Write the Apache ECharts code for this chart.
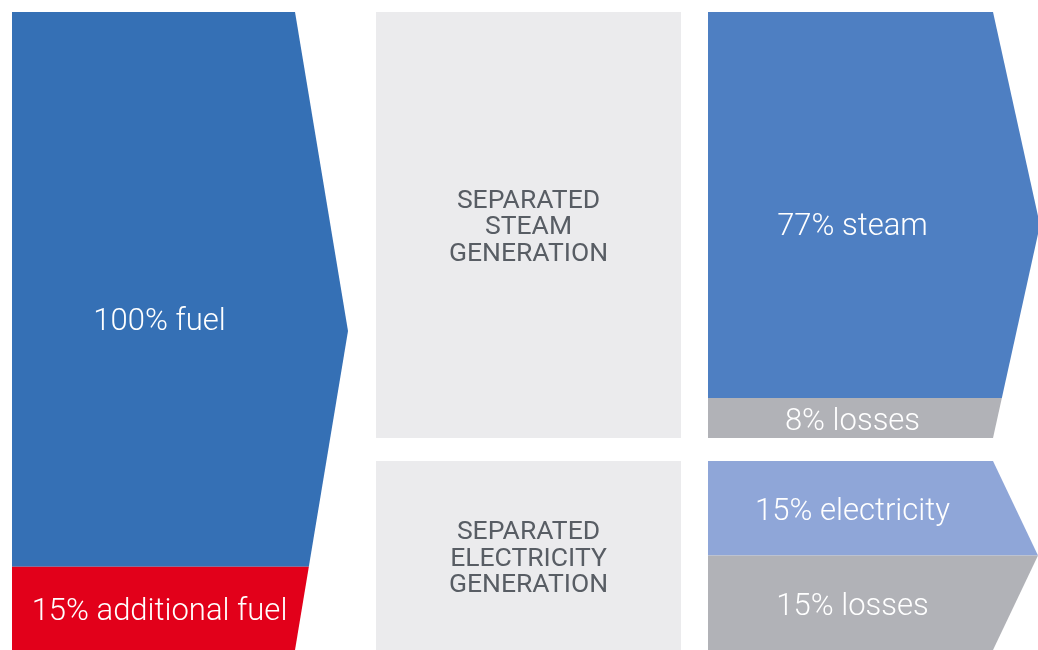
<!DOCTYPE html>
<html>
<head>
<meta charset="utf-8">
<script src="https://cdn.jsdelivr.net/npm/echarts@6/dist/echarts.min.js"></script>
<style>
html,body{margin:0;padding:0;background:#ffffff;}
#chart{width:1038px;height:650px;}
</style>
</head>
<body>
<div id="chart"></div>
<script>
// ---- data ----
const inputNames = ['fuel', 'additional fuel'];
const inputValues = [100, 15];
const steamNames = ['steam', 'losses'];
const steamValues = [77, 8];
const elecNames = ['electricity', 'losses'];
const elecValues = [15, 15];
const processLabels = ['SEPARATED\nSTEAM\nGENERATION', 'SEPARATED\nELECTRICITY\nGENERATION'];

// ---- styles ----
const inputColors = ['#3570b5', '#e2001a'];
const steamColors = ['#4e7fc2', '#b1b2b7'];
const elecColors = ['#8fa6d8', '#b1b2b7'];
const labelFont = '300 31px Roboto, "Noto Sans", sans-serif';
const boxFont = '26.5px Roboto, "Noto Sans", sans-serif';

function stackData(values) {
  let acc = 0;
  return values.map(v => { const s = acc; acc += v; return [0, s, acc]; });
}

function makeRender(names, values, colors, tip, labelDx, tipWeight) {
  return function (params, api) {
    const cs = params.coordSys;
    const i = params.dataIndex;
    const y0 = api.coord([0, api.value(1)])[1];
    const y1 = api.coord([0, api.value(2)])[1];
    const X0 = cs.x, X1 = cs.x + cs.width;
    const top = cs.y, bot = cs.y + cs.height;
    const mid = (top + bot) / 2, half = cs.height / 2;
    const ex = y => X1 + tip * Math.max(0, 1 - Math.abs(y - mid) / half);
    const pts = [[X0, y0], [ex(y0), y0]];
    let ly = (y0 + y1) / 2;
    if (y0 < mid && y1 > mid) {
      pts.push([X1 + tip, mid]);
      ly = (1 - tipWeight) * ly + tipWeight * mid;
    }
    pts.push([ex(y1), y1], [X0, y1]);
    return {
      type: 'group',
      children: [
        { type: 'polygon', shape: { points: pts }, style: { fill: colors[i] } },
        {
          type: 'text',
          style: {
            text: values[i] + '% ' + names[i],
            x: (X0 + X1) / 2 + labelDx, y: ly + 4,
            align: 'center', verticalAlign: 'middle',
            fill: '#ffffff', font: labelFont
          },
          z2: 10
        }
      ]
    };
  };
}

const grids = [
  { left: 12, top: 12, width: 283, height: 640 },
  { left: 708, top: 12, width: 285, height: 426 },
  { left: 708, top: 461, width: 285, height: 192 }
];
const blocks = [
  { names: inputNames, values: inputValues, colors: inputColors, tip: 53, dx: 6, w: 0.7 },
  { names: steamNames, values: steamValues, colors: steamColors, tip: 47, dx: 2, w: 0.9 },
  { names: elecNames, values: elecValues, colors: elecColors, tip: 45, dx: 2, w: 0 }
];

const chart = echarts.init(document.getElementById('chart'), null, { renderer: 'canvas' });

const option = {
  backgroundColor: '#ffffff',
  animation: false,
  grid: grids.map(g => Object.assign({ containLabel: false }, g)),
  xAxis: blocks.map((b, k) => ({ type: 'category', gridIndex: k, data: [''], show: false })),
  yAxis: blocks.map((b, k) => ({
    type: 'value', gridIndex: k, inverse: true, min: 0,
    max: b.values.reduce((a, c) => a + c, 0), show: false
  })),
  series: blocks.map((b, k) => ({
    type: 'custom',
    xAxisIndex: k, yAxisIndex: k,
    clip: false,
    renderItem: makeRender(b.names, b.values, b.colors, b.tip, b.dx, b.w),
    data: stackData(b.values)
  })),
  graphic: [
    { type: 'rect', shape: { x: 376, y: 12, width: 305, height: 426 }, style: { fill: '#ebebed' } },
    { type: 'rect', shape: { x: 376, y: 461, width: 305, height: 195 }, style: { fill: '#ebebed' } },
    {
      type: 'text', x: 528.5, y: 227.5,
      style: { text: processLabels[0], align: 'center', verticalAlign: 'middle', fill: '#585d64',
        font: boxFont, lineHeight: 26.5 }
    },
    {
      type: 'text', x: 528.5, y: 559,
      style: { text: processLabels[1], align: 'center', verticalAlign: 'middle', fill: '#585d64',
        font: boxFont, lineHeight: 26.5 }
    }
  ]
};
chart.setOption(option);
</script>
</body>
</html>
